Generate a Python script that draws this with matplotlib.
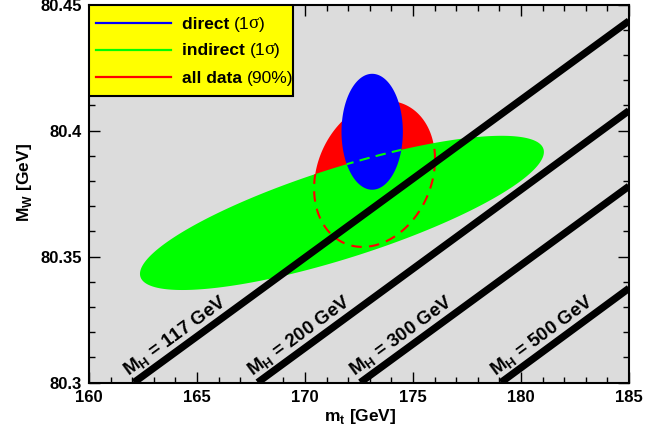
import numpy as np
import matplotlib
matplotlib.use("Agg")
import matplotlib.pyplot as plt
from matplotlib.patches import Polygon, Rectangle
from matplotlib.lines import Line2D
from matplotlib.ticker import MultipleLocator

# ---------------- data ----------------
# ellipses: centre (m_t, M_W), half extents (m_t, M_W), correlation
direct_center = (173.11, 80.3995)
direct_half = (1.42, 0.0230)
direct_rho = 0.0

indirect_center = (171.71, 80.3673)
indirect_half = (9.35, 0.0306)
indirect_rho = 0.79

alldata_center = (173.22, 80.3828)
alldata_half = (2.80, 0.0290)
alldata_rho = 0.2

# Higgs-mass bands: m_t where band meets M_W = 80.3, and M_W at m_t = 185
higgs_masses = [117, 200, 300, 500]
higgs_mt_floor = [162.08, 167.81, 172.56, 179.07]
higgs_mw_at185 = [80.4435, 80.4079, 80.3779, 80.3374]

legend_labels_bold = ["direct ", "indirect ", "all data "]
legend_labels_reg = ["(1", "(1", "(90%)"]
legend_has_sigma = [True, True, False]

x_range = (160, 185)
y_range = (80.3, 80.45)

# ---------------- style ----------------
SANS = "Liberation Sans"
plt.rcParams["font.family"] = [SANS, "DejaVu Sans"]
BG = "#dcdcdc"
BLUE, GREEN, RED, YELLOW = "#0000ff", "#00ff00", "#ff0000", "#ffff00"

fig = plt.figure(figsize=(6.56, 4.35), dpi=100)
ax = fig.add_axes([89 / 656, 1 - 383.5 / 435, 540 / 656, 378 / 435])
ax.set_facecolor(BG)
ax.set_xlim(*x_range)
ax.set_ylim(*y_range)


def ellipse_pts(center, half, rho, n=400):
    t = np.linspace(0, 2 * np.pi, n)
    cov = np.array([[half[0] ** 2, rho * half[0] * half[1]],
                    [rho * half[0] * half[1], half[1] ** 2]])
    L = np.linalg.cholesky(cov)
    pts = L @ np.vstack([np.cos(t), np.sin(t)])
    return np.column_stack([pts[0] + center[0], pts[1] + center[1]])


red_pts = ellipse_pts(alldata_center, alldata_half, alldata_rho)
green_pts = ellipse_pts(indirect_center, indirect_half, indirect_rho)
blue_pts = ellipse_pts(direct_center, direct_half, direct_rho)

red_patch = Polygon(red_pts, closed=True, facecolor=RED, edgecolor="none", zorder=2)
green_patch = Polygon(green_pts, closed=True, facecolor=GREEN, edgecolor="none", zorder=3)
blue_patch = Polygon(blue_pts, closed=True, facecolor=BLUE, edgecolor="none", zorder=4)
for p in (red_patch, green_patch, blue_patch):
    ax.add_patch(p)

# dashed outlines visible through the overlying fills
red_line, = ax.plot(red_pts[:, 0], red_pts[:, 1], color=RED, lw=1.5,
                    dashes=(5, 3.5), zorder=5)
red_line.set_clip_path(green_patch)
green_line, = ax.plot(green_pts[:, 0], green_pts[:, 1], color=GREEN, lw=1.5,
                      dashes=(5, 3), zorder=5)
green_line.set_clip_path(blue_patch)

# Higgs lines
for m, x0, y1 in zip(higgs_masses, higgs_mt_floor, higgs_mw_at185):
    ax.plot([x0, x_range[1]], [y_range[0], y1], color="black", lw=5.2,
            solid_capstyle="butt", zorder=6)
    slope = (y1 - y_range[0]) / (x_range[1] - x0)
    xa = x0 + 2.3
    ya = y_range[0] + slope * 2.3
    p0 = ax.transData.transform((x0, y_range[0]))
    p1 = ax.transData.transform((x_range[1], y1))
    ang = np.degrees(np.arctan2(p1[1] - p0[1], p1[0] - p0[0]))
    d = 9.5
    ax.annotate(r"M$_\mathregular{H}$ = %d GeV" % m, xy=(xa, ya),
                xytext=(-np.sin(np.radians(ang)) * d, np.cos(np.radians(ang)) * d),
                textcoords="offset points", ha="center", va="center",
                rotation=ang, rotation_mode="anchor", fontsize=13.5,
                fontweight="bold", zorder=7, annotation_clip=False)

# axes styling
for s in ax.spines.values():
    s.set_linewidth(1.5)
    s.set_zorder(10)
ax.xaxis.set_major_locator(MultipleLocator(5))
ax.xaxis.set_minor_locator(MultipleLocator(1))
ax.yaxis.set_major_locator(MultipleLocator(0.05))
ax.yaxis.set_minor_locator(MultipleLocator(0.01))
ax.tick_params(which="both", direction="in", top=True, right=True, width=1.0,
               zorder=10)
ax.tick_params(which="major", length=8, pad=5, labelsize=12)
ax.tick_params(which="minor", length=4)
ax.set_xticks(np.arange(160, 186, 5))
ax.set_xticklabels([str(v) for v in range(160, 186, 5)])
ax.set_yticks([80.3, 80.35, 80.4, 80.45])
ax.set_yticklabels(["80.3", "80.35", "80.4", "80.45"])
for lab in ax.get_xticklabels() + ax.get_yticklabels():
    lab.set_fontweight("bold")

fig.text(360 / 656, 1 - 417 / 435, r"m$_\mathregular{t}$ [GeV]", ha="center",
         va="center", fontsize=12.5, fontweight="bold")
fig.text(24 / 656, 1 - 183 / 435, r"M$_\mathregular{W}$ [GeV]", ha="center",
         va="center", rotation=90, fontsize=12.5, fontweight="bold")

# legend (hand built)
box = Rectangle((0, 0.758), 0.378, 0.242, transform=ax.transAxes,
                facecolor=YELLOW, edgecolor="black", lw=1.5, zorder=11)
ax.add_patch(box)
leg_colors = [BLUE, GREEN, RED]
leg_y = [0.951, 0.880, 0.808]
for c, yy, b, r, sig in zip(leg_colors, leg_y, legend_labels_bold,
                            legend_labels_reg, legend_has_sigma):
    ax.add_line(Line2D([0.013, 0.152], [yy, yy], transform=ax.transAxes,
                       color=c, lw=1.6, zorder=12))
    t1 = ax.text(0.172, yy, b, transform=ax.transAxes, ha="left", va="center",
                 fontsize=12.5, fontweight="bold", zorder=12)
    t2 = ax.annotate(r, xy=(1, 0), xycoords=t1, ha="left", va="bottom",
                     fontsize=12.5, zorder=12)
    if sig:
        t3 = ax.annotate("σ", xy=(1, 0), xycoords=t2, xytext=(-1.0, 0),
                         textcoords="offset points", ha="left", va="bottom",
                         fontsize=13.5, family="Liberation Serif", zorder=12)
        ax.annotate(")", xy=(1, 0), xycoords=t3, ha="left", va="bottom",
                    fontsize=12.5, zorder=12)

fig.savefig("out.png", dpi=100, facecolor="white")
